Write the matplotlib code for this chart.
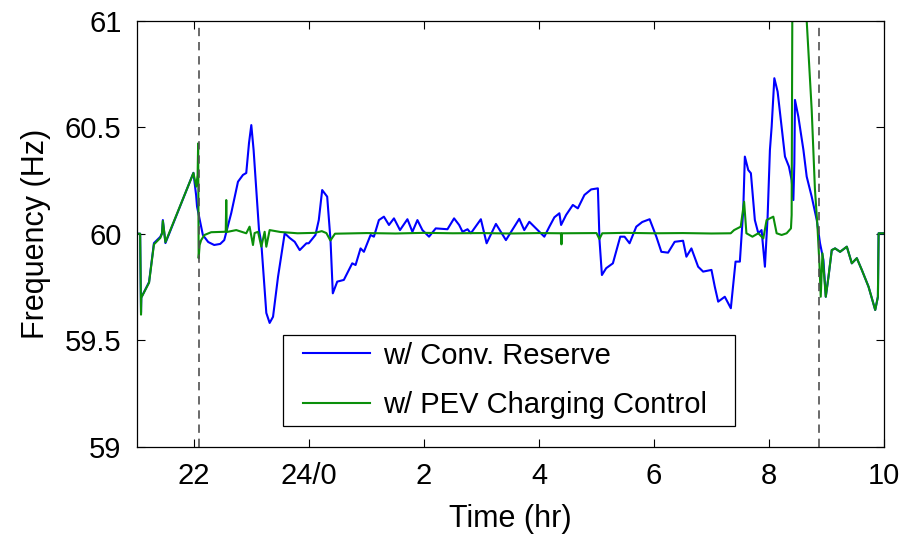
import numpy as np
import matplotlib
matplotlib.use("Agg")
import matplotlib.pyplot as plt
from matplotlib.patches import Rectangle

plt.rcParams['font.family'] = ['Liberation Sans', 'DejaVu Sans']

# time in hours (24 = midnight, 34 = 10 am next day), frequency in Hz
blue_t = [21.0, 21.06, 21.075, 21.08, 21.215, 21.30, 21.41, 21.44, 21.455, 21.50,
          21.987, 22.034, 22.05, 22.151, 22.244, 22.348, 22.453, 22.523, 22.645, 22.762,
          22.849, 22.906, 22.954, 22.994, 23.034, 23.128, 23.168, 23.255, 23.313, 23.372,
          23.459, 23.575, 23.662, 23.749, 23.836, 23.953, 23.993, 24.110, 24.168, 24.227,
          24.314, 24.372, 24.412, 24.489, 24.604, 24.750, 24.808, 24.895, 24.953, 25.069,
          25.127, 25.214, 25.301, 25.389, 25.476, 25.581, 25.710, 25.797, 25.884, 25.971,
          26.086, 26.203, 26.407, 26.522, 26.610, 26.669, 26.756, 26.814, 26.988, 27.088,
          27.250, 27.424, 27.656, 27.743, 27.831, 27.947, 28.092, 28.180, 28.267, 28.354,
          28.384, 28.471, 28.588, 28.675, 28.790, 28.907, 29.024, 29.052, 29.094, 29.168,
          29.285, 29.413, 29.488, 29.575, 29.692, 29.796, 29.924, 30.041, 30.128, 30.245,
          30.360, 30.506, 30.564, 30.651, 30.768, 30.855, 31.000, 31.058, 31.117, 31.232,
          31.337, 31.419, 31.494, 31.553, 31.581, 31.640, 31.686, 31.755, 31.815, 31.872,
          31.930, 31.977, 32.017, 32.047, 32.094, 32.151, 32.221, 32.279, 32.348, 32.395,
          32.425, 32.442, 32.453, 32.512, 32.600, 32.657, 32.744, 32.832, 32.889, 32.948,
          32.989, 33.036, 33.093, 33.151, 33.238, 33.355, 33.442, 33.529, 33.616, 33.733,
          33.849, 33.896, 33.908, 34.036]
blue_f = [60.0, 60.0, 59.63, 59.70, 59.773, 59.956, 59.985, 60.003, 60.064, 59.956,
          60.286, 60.18, 60.127, 59.994, 59.961, 59.947, 59.952, 59.970, 60.097, 60.244,
          60.276, 60.285, 60.426, 60.510, 60.393, 60.017, 59.956, 59.628, 59.581, 59.610,
          59.798, 60.002, 59.980, 59.962, 59.923, 59.955, 59.955, 59.994, 60.064, 60.205,
          60.174, 59.970, 59.720, 59.775, 59.783, 59.861, 59.853, 59.931, 59.915, 59.994,
          59.986, 60.064, 60.080, 60.041, 60.072, 60.017, 60.068, 60.009, 60.064, 60.017,
          59.986, 60.025, 60.021, 60.072, 60.041, 60.009, 60.021, 60.002, 60.068, 59.955,
          60.046, 59.970, 60.070, 60.017, 60.056, 60.025, 59.986, 60.033, 60.077, 60.096,
          60.041, 60.088, 60.135, 60.119, 60.182, 60.208, 60.213, 59.970, 59.806, 59.838,
          59.861, 59.986, 59.986, 59.955, 60.033, 60.055, 60.068, 59.986, 59.915, 59.911,
          59.962, 59.967, 59.892, 59.931, 59.845, 59.822, 59.830, 59.751, 59.681, 59.704,
          59.650, 59.869, 59.869, 60.111, 60.362, 60.299, 60.284, 60.064, 60.002, 60.017,
          59.845, 60.080, 60.393, 60.502, 60.730, 60.667, 60.502, 60.362, 60.315, 60.252,
          60.158, 60.331, 60.628, 60.549, 60.393, 60.268, 60.174, 60.064, 59.955, 59.877,
          59.704, 59.798, 59.923, 59.931, 59.915, 59.939, 59.861, 59.885, 59.830, 59.751,
          59.642, 59.704, 60.002, 60.002]

green_t = [21.0, 21.06, 21.075, 21.08, 21.215, 21.30, 21.41, 21.44, 21.455, 21.50,
           21.987, 22.034, 22.060, 22.069, 22.078, 22.095, 22.122, 22.179, 22.296, 22.528,
           22.549, 22.558, 22.567, 22.732, 22.906, 22.964, 23.023, 23.051, 23.111, 23.168,
           23.226, 23.255, 23.313, 23.5, 23.8, 24.1, 24.22, 24.30, 24.37, 24.45,
           25.0, 25.5, 26.0, 26.5, 27.0, 27.5, 28.0, 28.38, 28.39, 28.40,
           29.0, 29.05, 29.10, 29.5, 30.0, 30.5, 31.0, 31.335, 31.394, 31.509,
           31.568, 31.608, 31.713, 31.815, 31.902, 31.959, 32.017, 32.076, 32.134, 32.221,
           32.308, 32.383, 32.395, 32.41, 32.63, 32.657, 32.744, 32.80, 32.843, 32.878,
           32.901, 32.931, 32.989, 33.036, 33.093, 33.151, 33.238, 33.355, 33.442, 33.529,
           33.616, 33.733, 33.849, 33.896, 33.908, 34.036]
green_f = [60.0, 60.0, 59.62, 59.70, 59.77, 59.95, 59.98, 60.00, 60.06, 59.96,
           60.285, 60.221, 60.276, 60.424, 59.885, 59.947, 59.970, 59.994, 60.007, 60.009,
           60.009, 60.158, 60.008, 60.017, 60.002, 60.033, 59.947, 60.003, 60.009, 59.939,
           60.009, 59.939, 60.017, 60.008, 60.002, 60.004, 60.012, 60.003, 59.968, 60.0,
           60.003, 60.001, 60.004, 60.002, 60.003, 60.001, 60.003, 60.002, 59.95, 60.002,
           60.003, 59.975, 60.002, 60.004, 60.002, 60.003, 60.001, 60.002, 60.017, 60.033,
           60.150, 60.002, 59.986, 60.002, 59.978, 60.064, 60.072, 60.080, 60.002, 59.994,
           60.002, 60.025, 60.088, 61.3, 61.2, 61.0, 60.581, 60.21, 60.040, 59.861,
           59.704, 59.908, 59.704, 59.798, 59.923, 59.931, 59.915, 59.939, 59.861, 59.885,
           59.830, 59.751, 59.642, 59.704, 60.002, 60.002]

event_times = [22.08, 32.87]
xticks = [22, 24, 26, 28, 30, 32, 34]
xticklabels = ['22', '24/0', '2', '4', '6', '8', '10']
yticks = [59, 59.5, 60, 60.5, 61]
yticklabels = ['59', '59.5', '60', '60.5', '61']

fig = plt.figure(figsize=(9.15, 5.34), dpi=100)
ax = fig.add_axes([0.1494, 0.1635, 0.8166, 0.7977])

ax.plot(blue_t, blue_f, color='#0000ff', lw=1.5, label='w/ Conv. Reserve')
ax.plot(green_t, green_f, color='#0a8f0a', lw=1.5, label='w/ PEV Charging Control')
for t in event_times:
    ax.axvline(t, color='#505050', lw=1.2, ls=(0, (5, 3.5)))

ax.set_xlim(21, 34)
ax.set_ylim(59, 61)
ax.set_xticks(xticks)
ax.set_xticklabels(xticklabels)
ax.set_yticks(yticks)
ax.set_yticklabels(yticklabels)
ax.tick_params(direction='in', length=6, width=0.8, labelsize=21, pad=11,
               top=True, right=True)
for s in ax.spines.values():
    s.set_linewidth(0.9)
ax.set_xlabel('Time (hr)', fontsize=22, labelpad=10)
ax.set_ylabel('Frequency (Hz)', fontsize=22, labelpad=10)

# legend box drawn by hand so its padding matches the original
ax.add_patch(Rectangle((0.1962, 0.0486), 0.6044, 0.2136, transform=ax.transAxes,
                       facecolor='white', edgecolor='black', lw=0.9, zorder=4.5))
leg = ax.legend(loc='center left', bbox_to_anchor=(0.2225, 0.1554), fontsize=21,
                frameon=False, handlelength=2.3, handletextpad=0.45,
                labelspacing=0.75, borderpad=0, borderaxespad=0)
leg.set_zorder(5)

fig.savefig('out.png', dpi=100)
